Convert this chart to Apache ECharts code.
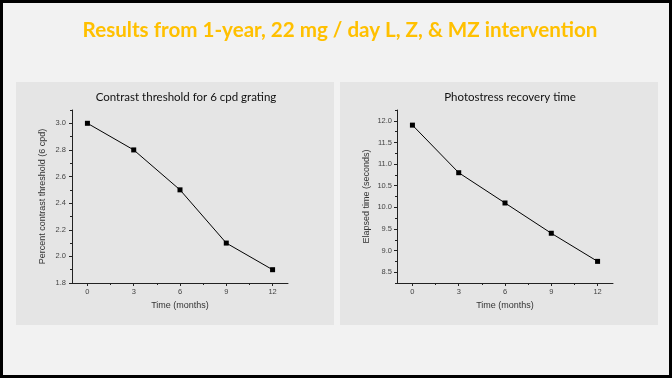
<!DOCTYPE html>
<html>
<head>
<meta charset="utf-8">
<script src="https://cdn.jsdelivr.net/npm/echarts@6/dist/echarts.min.js"></script>
<style>
html,body{margin:0;padding:0;background:#f2f2f2;}
#c{width:672px;height:378px;}
</style>
</head>
<body>
<div id="c"></div>
<script>
// ---- data ----
const months = [0, 3, 6, 9, 12];
const contrastThreshold = [3.0, 2.8, 2.5, 2.1, 1.9];
const recoveryTime = [11.9, 10.8, 10.1, 9.4, 8.75];
const xTickValues = [0, 3, 6, 9, 12];
const xMinorTickValues = [1.5, 4.5, 7.5, 10.5];
const leftYTickValues = [1.8, 2.0, 2.2, 2.4, 2.6, 2.8, 3.0];
const leftYMinorTickValues = [1.9, 2.1, 2.3, 2.5, 2.7, 2.9, 3.1];
const rightYTickValues = [8.5, 9.0, 9.5, 10.0, 10.5, 11.0, 11.5, 12.0];
const rightYMinorTickValues = [8.25, 8.75, 9.25, 9.75, 10.25, 10.75, 11.25, 11.75, 12.25];
const mainTitle = 'Results from 1-year, 22 mg / day L, Z, & MZ intervention';
const leftTitle = 'Contrast threshold for 6 cpd grating';
const rightTitle = 'Photostress recovery time';
const xName = 'Time (months)';
const leftYName = 'Percent contrast threshold (6 cpd)';
const rightYName = 'Elapsed time (seconds)';

const chart = echarts.init(document.getElementById('c'), null, {renderer: 'canvas'});
const axisColor = '#222';
const labelStyle = {color: '#444', fontFamily: 'Liberation Sans', fontSize: 7.5};
const nameStyle = {color: '#333', fontFamily: 'Liberation Sans', fontSize: 9};

function mainX(grid) {
  return {
    type: 'value', gridIndex: grid, min: -1, max: 13, position: 'bottom',
    name: xName, nameLocation: 'middle', nameGap: 18, nameTextStyle: nameStyle,
    axisLine: {show: true, onZero: false, lineStyle: {color: axisColor, width: 1}},
    axisTick: {show: true, customValues: xTickValues, length: 3, lineStyle: {color: axisColor}},
    axisLabel: {customValues: xTickValues, margin: 5, ...labelStyle},
    splitLine: {show: false}
  };
}
function minorX(grid) {
  return {
    type: 'value', gridIndex: grid, min: -1, max: 13, position: 'bottom', offset: 0,
    axisLine: {show: false, onZero: false},
    axisTick: {show: true, customValues: xMinorTickValues, length: 2, lineStyle: {color: axisColor}},
    axisLabel: {show: false}, splitLine: {show: false}
  };
}
function mainY(grid, min, max, ticks, name, gap, margin) {
  return {
    type: 'value', gridIndex: grid, min: min, max: max, position: 'left',
    name: name, nameLocation: 'middle', nameGap: gap, nameTextStyle: nameStyle,
    axisLine: {show: true, onZero: false, lineStyle: {color: axisColor, width: 1}},
    axisTick: {show: true, customValues: ticks, length: 3, lineStyle: {color: axisColor}},
    axisLabel: {customValues: ticks, margin: margin, formatter: v => v.toFixed(1), ...labelStyle},
    splitLine: {show: false}
  };
}
function minorY(grid, min, max, ticks) {
  return {
    type: 'value', gridIndex: grid, min: min, max: max, position: 'left', offset: 0,
    axisLine: {show: false, onZero: false},
    axisTick: {show: true, customValues: ticks, length: 2, lineStyle: {color: axisColor}},
    axisLabel: {show: false}, splitLine: {show: false}
  };
}

const option = {
  backgroundColor: '#f2f2f2',
  animation: false,
  graphic: [
    {type: 'rect', shape: {x: 1.5, y: 1.5, width: 669, height: 375}, style: {fill: 'none', stroke: '#000', lineWidth: 3}, z: -10},
    {type: 'rect', shape: {x: 16, y: 82, width: 318, height: 243}, style: {fill: '#e5e5e5'}, z: -10},
    {type: 'rect', shape: {x: 340, y: 82, width: 318, height: 243}, style: {fill: '#e5e5e5'}, z: -10}
  ],
  title: [
    {text: mainTitle, left: 340, top: 20, textAlign: 'center', padding: 0,
     textStyle: {color: '#ffc000', fontFamily: 'Lato', fontWeight: 'bold', fontSize: 20.6}},
    {text: leftTitle, left: 186, top: 91, textAlign: 'center', padding: 0,
     textStyle: {color: '#111', fontFamily: 'Lato', fontWeight: 'normal', fontSize: 11.5}},
    {text: rightTitle, left: 510, top: 91, textAlign: 'center', padding: 0,
     textStyle: {color: '#111', fontFamily: 'Lato', fontWeight: 'normal', fontSize: 11.5}}
  ],
  grid: [
    {left: 72, top: 110, width: 216, height: 173},
    {left: 397, top: 110, width: 216, height: 173}
  ],
  xAxis: [mainX(0), minorX(0), mainX(1), minorX(1)],
  yAxis: [
    mainY(0, 1.8, 3.1, leftYTickValues, leftYName, 25, 6),
    minorY(0, 1.8, 3.1, leftYMinorTickValues),
    mainY(1, 8.25, 12.25, rightYTickValues, rightYName, 26, 5),
    minorY(1, 8.25, 12.25, rightYMinorTickValues)
  ],
  series: [
    {type: 'line', xAxisIndex: 0, yAxisIndex: 0, data: months.map((m, i) => [m, contrastThreshold[i]]),
     symbol: 'rect', symbolSize: 5, itemStyle: {color: '#000'}, lineStyle: {color: '#000', width: 1}},
    {type: 'line', xAxisIndex: 2, yAxisIndex: 2, data: months.map((m, i) => [m, recoveryTime[i]]),
     symbol: 'rect', symbolSize: 5, itemStyle: {color: '#000'}, lineStyle: {color: '#000', width: 1}}
  ]
};
chart.setOption(option);
</script>
</body>
</html>
